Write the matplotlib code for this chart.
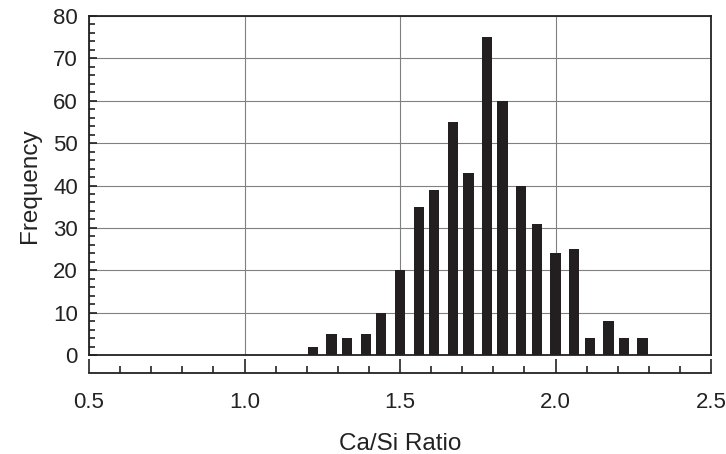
import numpy as np
import matplotlib
matplotlib.use("Agg")
from matplotlib import pyplot as plt
from matplotlib.ticker import MultipleLocator

plt.rcParams['font.family'] = ['Liberation Sans', 'DejaVu Sans']

# histogram bins (Ca/Si ratio, bin centres) and counts
ratio = [1.22, 1.28, 1.33, 1.39, 1.44, 1.50, 1.56, 1.61, 1.67, 1.72,
         1.78, 1.83, 1.89, 1.94, 2.00, 2.06, 2.11, 2.17, 2.22, 2.28]
frequency = [2, 5, 4, 5, 10, 20, 35, 39, 55, 43,
             75, 60, 40, 31, 24, 25, 4, 8, 4, 4]

x_ticks = [0.5, 1.0, 1.5, 2.0, 2.5]
y_ticks = [0, 10, 20, 30, 40, 50, 60, 70, 80]

fig = plt.figure(figsize=(7.26, 4.54), dpi=100)
ax = fig.add_axes([89 / 726, 1 - 355 / 454, 622 / 726, 339 / 454])

ax.bar(ratio, frequency, width=0.033, color='#231f20', zorder=3)

ax.set_xlim(0.5, 2.5)
ax.set_ylim(0, 80)
ax.set_xticks(x_ticks)
ax.set_yticks(y_ticks)
ax.yaxis.set_minor_locator(MultipleLocator(2))

# grid inside the box
ax.grid(True, which='major', color='#808080', linewidth=0.8, zorder=1)
for s in ax.spines.values():
    s.set_linewidth(1.3)
    s.set_color('#222222')

# main box: no x tick marks / labels, inward y ticks
ax.tick_params(axis='x', which='both', length=0, labelbottom=False)
ax.tick_params(axis='y', which='major', direction='in', length=6, width=1.2,
               labelsize=16, pad=8, colors='#222222')
ax.tick_params(axis='y', which='minor', direction='in', length=4, width=1.2,
               colors='#222222')

# detached x axis below the box
sec = ax.secondary_xaxis(-17.7 / 339)
sec.set_xticks(x_ticks)
sec.xaxis.set_minor_locator(MultipleLocator(0.1))
sec.spines['bottom'].set_linewidth(1.3)
sec.spines['bottom'].set_color('#222222')
sec.tick_params(axis='x', which='major', direction='in', length=10, width=1.2,
                labelsize=16, pad=14, colors='#222222')
sec.tick_params(axis='x', which='minor', direction='in', length=5, width=1.2,
                colors='#222222')
sec.set_xlabel('Ca/Si Ratio', fontsize=17.5, labelpad=14, color='#222222')

ax.set_ylabel('Frequency', fontsize=17.5, labelpad=9, color='#222222')

fig.savefig('out.png', dpi=100)
